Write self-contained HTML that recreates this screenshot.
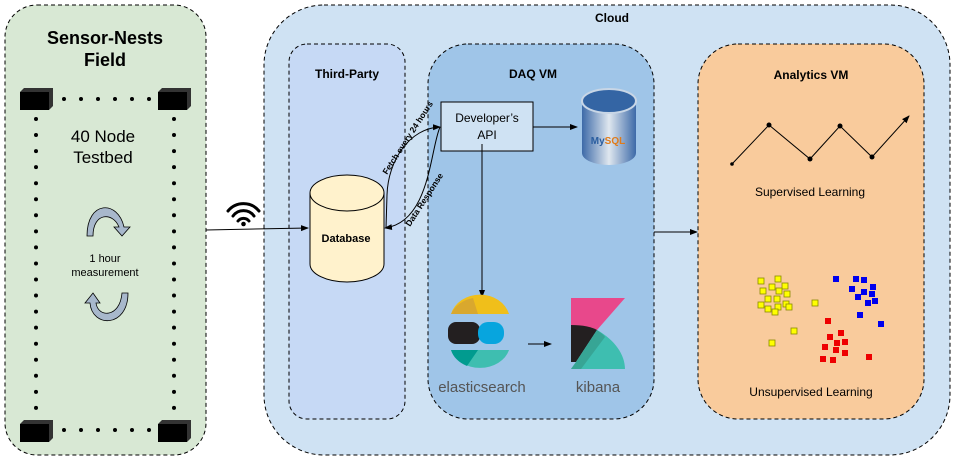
<!DOCTYPE html>
<html><head><meta charset="utf-8"><style>
html,body{margin:0;padding:0;background:#fff;}
svg{display:block;font-family:"Liberation Sans",sans-serif;}
</style></head><body>
<svg width="954" height="459" viewBox="0 0 954 459" xmlns="http://www.w3.org/2000/svg">
<defs>
<marker id="ah" markerWidth="8" markerHeight="8" refX="7" refY="4" orient="auto" markerUnits="userSpaceOnUse"><path d="M0,1 L8,4 L0,7 Z" fill="#000"/></marker>
<linearGradient id="mg" x1="0" x2="1"><stop offset="0" stop-color="#3d6aa8"/><stop offset="0.5" stop-color="#dfe7ef"/><stop offset="1" stop-color="#3d6aa8"/></linearGradient>
</defs>
<!-- Sensor field -->
<rect x="5" y="5" width="201" height="450" rx="32" fill="#d8e8d4" stroke="#000" stroke-dasharray="4,3"/>
<text x="105" y="44" font-size="18" font-weight="bold" text-anchor="middle">Sensor-Nests</text>
<text x="105" y="66" font-size="18" font-weight="bold" text-anchor="middle">Field</text>
<g fill="#000">
<rect x="20" y="92" width="29" height="18"/><path d="M20,92 l4,-4 h29 l-4,4z M49,92 l4,-4 v18 l-4,4z" fill="#333"/>
<rect x="158" y="92" width="29" height="18"/><path d="M158,92 l4,-4 h29 l-4,4z M187,92 l4,-4 v18 l-4,4z" fill="#333"/>
<rect x="20" y="424" width="29" height="18"/><path d="M20,424 l4,-4 h29 l-4,4z M49,424 l4,-4 v18 l-4,4z" fill="#333"/>
<rect x="158" y="424" width="29" height="18"/><path d="M158,424 l4,-4 h29 l-4,4z M187,424 l4,-4 v18 l-4,4z" fill="#333"/>
</g>
<line x1="64" y1="99" x2="150" y2="99" stroke="#000" stroke-width="4" stroke-linecap="round" stroke-dasharray="0,17"/>
<line x1="64" y1="430" x2="150" y2="430" stroke="#000" stroke-width="4" stroke-linecap="round" stroke-dasharray="0,17"/>
<line x1="36" y1="119" x2="36" y2="408" stroke="#000" stroke-width="4" stroke-linecap="round" stroke-dasharray="0,16.05"/>
<line x1="174" y1="119" x2="174" y2="408" stroke="#000" stroke-width="4" stroke-linecap="round" stroke-dasharray="0,16.05"/>
<text x="103" y="142" font-size="17" text-anchor="middle">40 Node</text>
<text x="103" y="163" font-size="17" text-anchor="middle">Testbed</text>
<path d="M87,236 C87,200 118,200 124,227 L130,227 L122,236 L114,227 L119,227 C113,212 93,212 93,236 Z" fill="#a8b8cc" stroke="#000" stroke-width="0.8"/>
<text x="105" y="262" font-size="11" text-anchor="middle">1 hour</text>
<text x="105" y="276" font-size="11" text-anchor="middle">measurement</text>
<path d="M128,293 C128,328 92,328 90,303 L85,303 L93,293 L100,303 L96,303 C98,318 120,318 122,293 Z" fill="#a8b8cc" stroke="#000" stroke-width="0.8"/>
<!-- Cloud -->
<rect x="264" y="5" width="686" height="450" rx="60" fill="#cfe2f3" stroke="#000" stroke-dasharray="4,3"/>
<text x="612" y="22" font-size="12" font-weight="bold" text-anchor="middle">Cloud</text>
<rect x="289" y="44" width="116" height="375" rx="18" fill="#c6d9f5" stroke="#000" stroke-dasharray="4,3"/>
<text x="347" y="78" font-size="12" font-weight="bold" text-anchor="middle">Third-Party</text>
<rect x="428" y="44" width="226" height="375" rx="40" fill="#9fc5e8" stroke="#000" stroke-dasharray="4,3"/>
<text x="533" y="78" font-size="12" font-weight="bold" text-anchor="middle">DAQ VM</text>
<rect x="698" y="44" width="226" height="375" rx="40" fill="#f9cb9c" stroke="#000" stroke-dasharray="4,3"/>
<text x="811" y="79" font-size="12" font-weight="bold" text-anchor="middle">Analytics VM</text>
<!-- wifi -->
<g fill="none" stroke="#000" stroke-width="3" stroke-linecap="round">
<path d="M228,211 A20,20 0 0 1 259,211"/><path d="M233,216 A13,13 0 0 1 254,216"/><path d="M238,221 A7,7 0 0 1 249,221"/>
</g><circle cx="243.5" cy="224" r="2.3" fill="#000"/>
<line x1="206" y1="230" x2="308" y2="228" stroke="#000" marker-end="url(#ah)"/>
<!-- database -->
<path d="M310,193 V264 A37,18 0 0 0 384,264 V193" fill="#fff2cc" stroke="#000"/>
<ellipse cx="347" cy="193" rx="37" ry="18" fill="#fff2cc" stroke="#000"/>
<text x="346" y="242" font-size="11" font-weight="bold" text-anchor="middle">Database</text>
<!-- curved arrows -->
<path d="M387,195 C388,160 410,128 440,127" fill="none" stroke="#000" marker-end="url(#ah)"/>
<path d="M440,127 C430,150 430,222 385,228" fill="none" stroke="#000" marker-end="url(#ah)"/>
<path d="M386,228 L387,195" stroke="#000" fill="none"/>
<text x="0" y="0" font-size="8.5" font-weight="bold" transform="translate(387,175) rotate(-57)">Fetch every 24 hours</text>
<text x="0" y="0" font-size="8.5" font-weight="bold" transform="translate(410,227) rotate(-57)">Data Response</text>
<!-- API -->
<rect x="441" y="102" width="92" height="49" fill="#cfe2f3" stroke="#000"/>
<text x="487" y="122" font-size="12" text-anchor="middle">Developer’s</text>
<text x="487" y="139" font-size="12" text-anchor="middle">API</text>
<line x1="533" y1="127" x2="577" y2="127" stroke="#000" marker-end="url(#ah)"/>
<line x1="482" y1="144" x2="482" y2="297" stroke="#000" marker-end="url(#ah)"/>
<!-- mysql -->
<path d="M582,101 V153 A27,12 0 0 0 636,153 V101" fill="url(#mg)"/>
<ellipse cx="609" cy="101" rx="27" ry="12" fill="#3465a4" stroke="#c8d6e6" stroke-width="2"/>
<text x="608" y="144" font-size="10" fill="#e07b1a" font-weight="bold" text-anchor="middle"><tspan fill="#2a5d9f">My</tspan>SQL</text>
<!-- elastic -->
<path d="M451,314 A30,26 0 0 1 509,314 Z" fill="#f0bf1a"/>
<path d="M451,314 A30,26 0 0 1 473,298 L478,314 Z" fill="#d9a82e"/>
<rect x="448" y="322" width="32" height="22" rx="8" fill="#231f20"/>
<rect x="478" y="322" width="26" height="22" rx="10" fill="#07a5de"/>
<path d="M451,350 A30,24 0 0 0 509,350 Z" fill="#3ebeb0"/>
<path d="M451,350 A30,24 0 0 0 467,366 L478,350 Z" fill="#019b8f"/>
<text x="482" y="392" font-size="15" fill="#555" text-anchor="middle">elasticsearch</text>
<line x1="528" y1="344" x2="551" y2="344" stroke="#000" marker-end="url(#ah)"/>
<!-- kibana -->
<path d="M571,298 H625 L597,330 L571,325 Z" fill="#e8488b"/>
<path d="M571,325 C583,325 592,327 597,330 L576,362 H571 Z" fill="#231f20"/>
<path d="M597,330 C615,340 625,355 625,369 H571 L576,362 Z" fill="#3ebeb0"/>
<path d="M576,362 L597,330 C601,333 604,335 605,337 L581,369 H571Z" fill="#37a595"/>
<text x="598" y="392" font-size="15" fill="#555" text-anchor="middle">kibana</text>
<line x1="654" y1="232" x2="697" y2="232" stroke="#000" marker-end="url(#ah)"/>
<!-- supervised -->
<polyline points="732,164 769,125 810,159 840,126 872,157 909,116" fill="none" stroke="#000" marker-end="url(#ah)"/>
<g fill="#000"><circle cx="732" cy="164" r="1.8"/><circle cx="769" cy="125" r="2.5"/><circle cx="810" cy="159" r="2.5"/><circle cx="840" cy="126" r="2.5"/><circle cx="872" cy="157" r="2.5"/></g>
<text x="810" y="196" font-size="12" text-anchor="middle">Supervised Learning</text>
<text x="811" y="396" font-size="12" text-anchor="middle">Unsupervised Learning</text>
<g fill="#ffff00" stroke="#8a8a00" stroke-width="0.8">
<rect x="758" y="278" width="6" height="6"/><rect x="775" y="276" width="6" height="6"/><rect x="769" y="284" width="6" height="6"/><rect x="782" y="283" width="6" height="6"/><rect x="760" y="288" width="6" height="6"/><rect x="776" y="288" width="6" height="6"/><rect x="784" y="291" width="6" height="6"/><rect x="765" y="296" width="6" height="6"/><rect x="774" y="296" width="6" height="6"/><rect x="758" y="302" width="6" height="6"/><rect x="765" y="306" width="6" height="6"/><rect x="775" y="304" width="6" height="6"/><rect x="783" y="301" width="6" height="6"/><rect x="786" y="304" width="6" height="6"/><rect x="772" y="309" width="6" height="6"/><rect x="812" y="300" width="6" height="6"/><rect x="791" y="328" width="6" height="6"/><rect x="769" y="340" width="6" height="6"/>
</g>
<g fill="#0000ee">
<rect x="833" y="276" width="6" height="6"/><rect x="853" y="276" width="6" height="6"/><rect x="861" y="277" width="6" height="6"/><rect x="849" y="286" width="6" height="6"/><rect x="870" y="284" width="6" height="6"/><rect x="861" y="289" width="6" height="6"/><rect x="869" y="291" width="6" height="6"/><rect x="855" y="294" width="6" height="6"/><rect x="872" y="298" width="6" height="6"/><rect x="865" y="300" width="6" height="6"/><rect x="857" y="312" width="6" height="6"/><rect x="878" y="321" width="6" height="6"/>
</g>
<g fill="#ee0000">
<rect x="825" y="318" width="6" height="6"/><rect x="838" y="330" width="6" height="6"/><rect x="827" y="334" width="6" height="6"/><rect x="842" y="339" width="6" height="6"/><rect x="834" y="340" width="6" height="6"/><rect x="822" y="344" width="6" height="6"/><rect x="833" y="347" width="6" height="6"/><rect x="842" y="350" width="6" height="6"/><rect x="820" y="356" width="6" height="6"/><rect x="830" y="357" width="6" height="6"/><rect x="866" y="354" width="6" height="6"/>
</g>
</svg>
</body></html>
